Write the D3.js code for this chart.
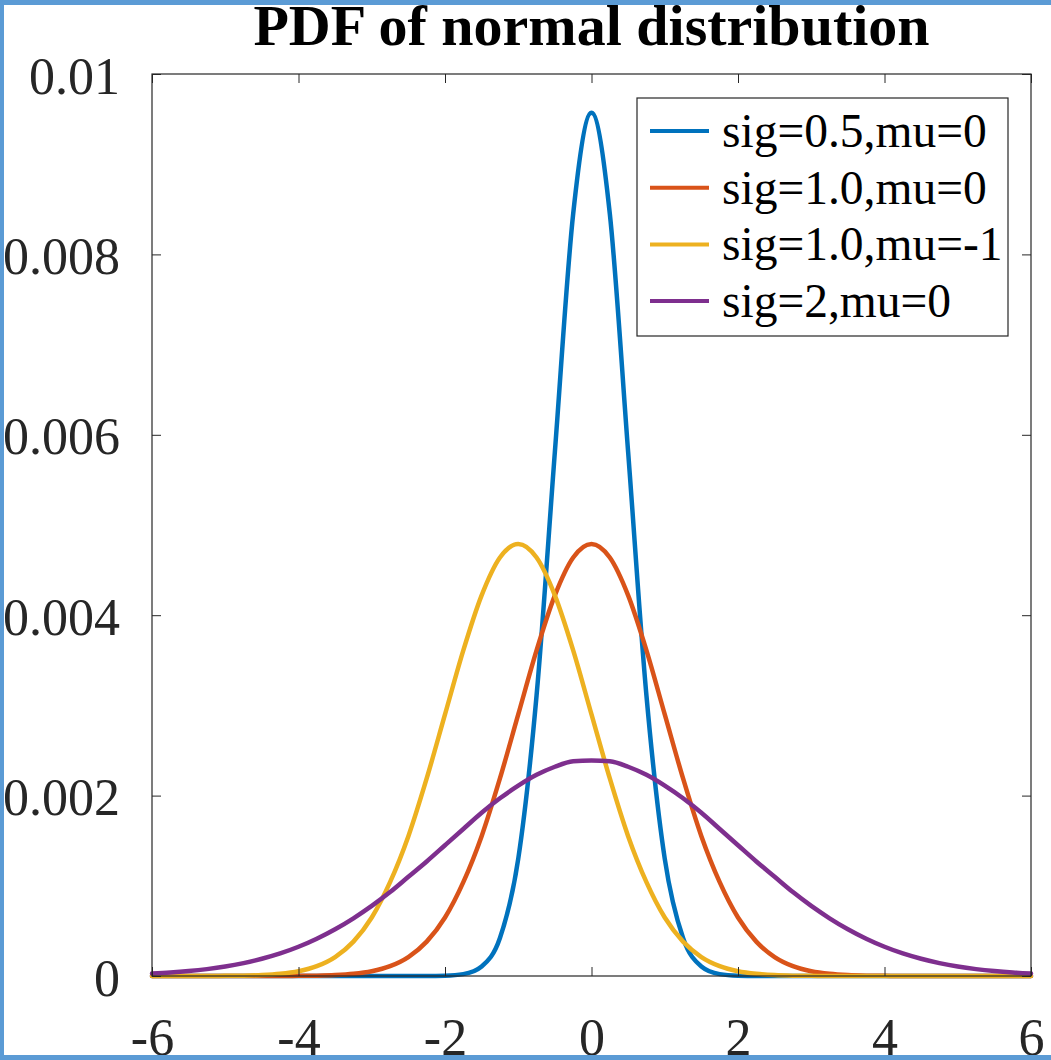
<!DOCTYPE html>
<html>
<head>
<meta charset="utf-8">
<script src="https://cdn.jsdelivr.net/npm/d3@7"></script>
<style>
  body { margin: 0; background: #fff; }
  svg { display: block; }
  text { font-family: "Liberation Serif", "Times New Roman", serif; fill: #262626; }
</style>
</head>
<body>
<svg class="chart" width="1051" height="1060"></svg>
<script>
// x grid (step 0.25)
var xs = [-6, -5.75, -5.5, -5.25, -5, -4.75, -4.5, -4.25, -4, -3.75, -3.5, -3.25, -3, -2.75, -2.5, -2.25,
  -2, -1.75, -1.5, -1.25, -1, -0.75, -0.5, -0.25, 0, 0.25, 0.5, 0.75, 1, 1.25, 1.5, 1.75,
  2, 2.25, 2.5, 2.75, 3, 3.25, 3.5, 3.75, 4, 4.25, 4.5, 4.75, 5, 5.25, 5.5, 5.75, 6];

var sig05 = [0, 0, 0, 0, 0, 0, 0, 0, 0, 0, 0, 0, 0, 0, 0, 0,
  0.000003, 0.000021, 0.000106, 0.000421, 0.00130, 0.00311, 0.00581, 0.00845, 0.00957,
  0.00845, 0.00581, 0.00311, 0.00130, 0.000421, 0.000106, 0.000021, 0.000003,
  0, 0, 0, 0, 0, 0, 0, 0, 0, 0, 0, 0, 0, 0, 0, 0];

var sig1 = [0, 0, 0, 0, 0, 0, 0, 0,
  0.000002, 0.000004, 0.000010, 0.000024, 0.000053, 0.000109, 0.000210, 0.000381,
  0.000648, 0.00104, 0.00155, 0.00219, 0.00290, 0.00361, 0.00422, 0.00464, 0.00479,
  0.00464, 0.00422, 0.00361, 0.00290, 0.00219, 0.00155, 0.00104, 0.000648,
  0.000381, 0.000210, 0.000109, 0.000053, 0.000024, 0.000010, 0.000004, 0.000002,
  0, 0, 0, 0, 0, 0, 0, 0];

var sig1m1 = [0, 0, 0, 0,
  0.000002, 0.000004, 0.000010, 0.000024, 0.000053, 0.000109, 0.000210, 0.000381,
  0.000648, 0.00104, 0.00155, 0.00219, 0.00290, 0.00361, 0.00422, 0.00464, 0.00479,
  0.00464, 0.00422, 0.00361, 0.00290, 0.00219, 0.00155, 0.00104, 0.000648,
  0.000381, 0.000210, 0.000109, 0.000053, 0.000024, 0.000010, 0.000004, 0.000002,
  0, 0, 0, 0, 0, 0, 0, 0, 0, 0, 0, 0];

var sig2 = [0.0000266, 0.0000384, 0.0000546, 0.0000764, 0.000105, 0.000143, 0.000191, 0.000250,
  0.000324, 0.000413, 0.000518, 0.000640, 0.000777, 0.000930, 0.00110, 0.00127,
  0.00145, 0.00163, 0.00181, 0.00197, 0.00211, 0.00223, 0.00232, 0.00238, 0.00239,
  0.00238, 0.00232, 0.00223, 0.00211, 0.00197, 0.00181, 0.00163, 0.00145,
  0.00127, 0.00110, 0.000930, 0.000777, 0.000640, 0.000518, 0.000413, 0.000324,
  0.000250, 0.000191, 0.000143, 0.000105, 0.0000764, 0.0000546, 0.0000384, 0.0000266];

var seriesNames = ["sig=0.5,mu=0", "sig=1.0,mu=0", "sig=1.0,mu=-1", "sig=2,mu=0"];
var seriesColors = ["#0072BD", "#D95319", "#EDB120", "#7E2F8E"];
var seriesData = [sig05, sig1, sig1m1, sig2];

var xTicks = [-6, -4, -2, 0, 2, 4, 6];
var yTicks = [0, 0.002, 0.004, 0.006, 0.008, 0.01];
var yTickLabels = ["0", "0.002", "0.004", "0.006", "0.008", "0.01"];

var svg = d3.select(".chart");
var pl = 152, pr = 1031, pt = 74, pb = 976;
var tickLen = 9;
var axisColor = "#262626";

var x = d3.scaleLinear().domain([-6, 6]).range([pl, pr]);
var y = d3.scaleLinear().domain([0, 0.01]).range([pb, pt]);

svg.append("rect").attr("width", 1051).attr("height", 1060).attr("fill", "#fff");

// title
svg.append("text")
  .attr("x", (pl + pr) / 2)
  .attr("y", 45)
  .attr("text-anchor", "middle")
  .style("font-size", "58px")
  .style("font-weight", "bold")
  .style("fill", "#000")
  .text("PDF of normal distribution");

// curves
var line = d3.line()
  .x(function(d) { return x(d[0]); })
  .y(function(d) { return y(d[1]); })
  .curve(d3.curveMonotoneX);

seriesData.forEach(function(vals, i) {
  var pts = xs.map(function(v, j) { return [v, vals[j]]; });
  svg.append("path")
    .attr("d", line(pts))
    .attr("fill", "none")
    .attr("stroke", seriesColors[i])
    .attr("stroke-width", 4.5)
    .attr("stroke-linejoin", "round")
    .attr("stroke-linecap", "round");
});

// axes (ticks inward, box around)
var gx = svg.append("g")
  .attr("transform", "translate(0," + pb + ")")
  .call(d3.axisBottom(x).tickValues(xTicks).tickSize(-tickLen).tickFormat(function(d) { return String(d); }));
gx.selectAll("text").attr("y", 79).attr("dy", null).style("font-size", "52px");

var gxt = svg.append("g")
  .attr("transform", "translate(0," + pt + ")")
  .call(d3.axisTop(x).tickValues(xTicks).tickSize(-tickLen).tickFormat(""));

var gy = svg.append("g")
  .attr("transform", "translate(" + pl + ",0)")
  .call(d3.axisLeft(y).tickValues(yTicks).tickSize(-tickLen).tickFormat(function(d, i) { return yTickLabels[i]; }));
gy.selectAll("text").attr("x", -32).attr("dy", null).attr("y", 19).style("font-size", "52px");

var gyr = svg.append("g")
  .attr("transform", "translate(" + pr + ",0)")
  .call(d3.axisRight(y).tickValues(yTicks).tickSize(-tickLen).tickFormat(""));

[gx, gxt, gy, gyr].forEach(function(g) {
  g.select(".domain").remove();
  g.attr("font-family", null).attr("font-size", null);
  g.selectAll("line").attr("stroke", axisColor);
  g.selectAll("text").style("fill", axisColor);
});

svg.append("rect")
  .attr("x", pl).attr("y", pt)
  .attr("width", pr - pl).attr("height", pb - pt)
  .attr("fill", "none")
  .attr("stroke", axisColor)
  .attr("stroke-width", 1.2);

// legend
var legend = svg.append("g");
legend.append("rect")
  .attr("x", 637).attr("y", 98)
  .attr("width", 371).attr("height", 238)
  .attr("fill", "#fff")
  .attr("stroke", axisColor)
  .attr("stroke-width", 1.2);

seriesNames.forEach(function(name, i) {
  var ly = 131 + i * 56.7;
  legend.append("line")
    .attr("x1", 650).attr("x2", 709)
    .attr("y1", ly).attr("y2", ly)
    .attr("stroke", seriesColors[i])
    .attr("stroke-width", 4);
  legend.append("text")
    .attr("x", 722).attr("y", ly + 16)
    .style("font-size", "47.5px")
    .style("fill", "#000")
    .text(name);
});

// blue frame around the picture (top, left, bottom)
var frame = "#5b9bd5";
svg.append("rect").attr("x", 0).attr("y", 0).attr("width", 1051).attr("height", 5).attr("fill", frame);
svg.append("rect").attr("x", 0).attr("y", 0).attr("width", 4).attr("height", 1060).attr("fill", frame);
svg.append("rect").attr("x", 0).attr("y", 1055).attr("width", 1051).attr("height", 5).attr("fill", frame);
</script>
</body>
</html>
